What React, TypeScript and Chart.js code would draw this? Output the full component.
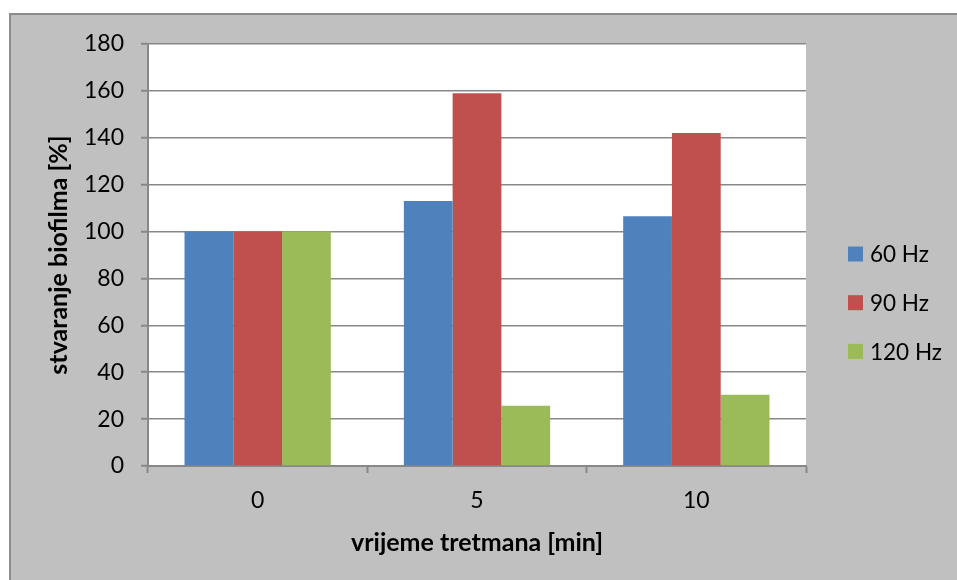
import React, { useEffect, useRef } from "react";
import { Chart, registerables } from "chart.js";

Chart.register(...registerables);

const categories = ["0", "5", "10"];
const seriesNames = ["60 Hz", "90 Hz", "120 Hz"];
const hz60 = [100, 113, 106.5];
const hz90 = [100, 159, 142];
const hz120 = [100, 25.7, 30.4];
const seriesColors = ["#4F81BD", "#C0504D", "#9BBB59"];
const yTicksMin = 0;
const yTicksMax = 180;
const yTicksStep = 20;

const FONT = "Lato, 'Open Sans', sans-serif";
const GRID = "#888888";

const bgPlugin = {
  id: "bgPlugin",
  beforeDraw(chart: any) {
    const ctx = chart.ctx;
    ctx.save();
    ctx.fillStyle = "#ffffff";
    ctx.fillRect(0, 0, chart.width, chart.height);
    ctx.fillStyle = "#c0c0c0";
    ctx.fillRect(9, 13, chart.width, chart.height);
    ctx.strokeStyle = "#8c8c8c";
    ctx.lineWidth = 2;
    ctx.beginPath();
    ctx.moveTo(10, chart.height);
    ctx.lineTo(10, 14);
    ctx.lineTo(chart.width, 14);
    ctx.stroke();
    const a = chart.chartArea;
    ctx.fillStyle = "#ffffff";
    ctx.fillRect(a.left, a.top, a.right - a.left, a.bottom - a.top);
    ctx.restore();
  },
};

const legendPlugin = {
  id: "customLegend",
  afterDraw(chart: any) {
    const ctx = chart.ctx;
    ctx.save();
    ctx.font = `22.5px ${FONT}`;
    ctx.textBaseline = "middle";
    ctx.textAlign = "left";
    chart.data.datasets.forEach((ds: any, i: number) => {
      const cy = 254 + i * 48.7;
      ctx.fillStyle = ds.backgroundColor;
      ctx.fillRect(848, cy - 7.5, 15, 15);
      ctx.fillStyle = "#000000";
      ctx.fillText(ds.label, 870, cy + 1);
    });
    ctx.restore();
  },
};

export default function App() {
  const ref = useRef<HTMLCanvasElement>(null);
  useEffect(() => {
    if (!ref.current) return;
    const values = [hz60, hz90, hz120];
    const chart = new Chart(ref.current, {
      type: "bar",
      data: {
        labels: categories,
        datasets: seriesNames.map((name, i) => ({
          label: name,
          data: values[i],
          backgroundColor: seriesColors[i],
          borderWidth: 0,
          categoryPercentage: 0.667,
          barPercentage: 1.0,
        })),
      },
      options: {
        animation: false,
        responsive: false,
        devicePixelRatio: 1,
        layout: { padding: { top: 44, right: 151, left: 0, bottom: 0 } },
        plugins: {
          legend: { display: false },
          tooltip: { enabled: false },
        },
        scales: {
          x: {
            afterFit(scale: any) {
              scale.height = 114;
            },
            grid: {
              offset: true,
              drawOnChartArea: false,
              drawTicks: true,
              tickLength: 7,
              tickWidth: 2,
              tickColor: GRID,
            },
            border: { display: true, color: GRID, width: 2 },
            ticks: {
              color: "#000000",
              font: { family: FONT, size: 23 },
              padding: 14,
            },
            title: {
              display: true,
              text: "vrijeme tretmana [min]",
              color: "#000000",
              font: { family: FONT, size: 25, weight: "bold" },
              padding: { top: 0, bottom: 22 },
            },
          },
          y: {
            min: yTicksMin,
            max: yTicksMax,
            afterFit(scale: any) {
              scale.width = 148;
            },
            ticks: {
              stepSize: yTicksStep,
              color: "#000000",
              font: { family: FONT, size: 23 },
              padding: 17,
            },
            grid: {
              color: GRID,
              lineWidth: 1.5,
              drawTicks: true,
              tickLength: 7,
              tickWidth: 2,
              tickColor: GRID,
            },
            border: { display: true, color: GRID, width: 2 },
            title: {
              display: true,
              text: "stvaranje biofilma [%]",
              color: "#000000",
              font: { family: FONT, size: 25, weight: "bold" },
              padding: { top: 44, bottom: 0 },
            },
          },
        },
      },
      plugins: [bgPlugin, legendPlugin],
    });
    return () => chart.destroy();
  }, []);
  return (
    <div style={{ position: "absolute", left: 0, top: 0, width: 957, height: 580 }}>
      <canvas ref={ref} width={957} height={580} style={{ display: "block" }} />
    </div>
  );
}
